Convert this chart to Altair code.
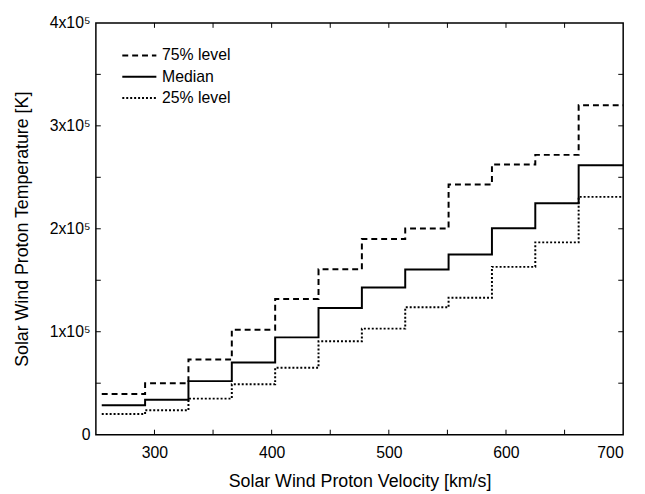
import altair as alt
import pandas as pd

# bin edges of solar wind velocity (km/s)
edges = [255, 292, 329, 366, 403, 440, 477, 514, 551, 588, 625, 662, 700]
p75 = [39400, 50000, 73000, 102000, 131700, 160600, 190000, 200300, 243000, 262500, 271800, 320000]
median = [28500, 34000, 52000, 70000, 94500, 123000, 143000, 160500, 175000, 200600, 224700, 261800]
p25 = [20000, 23700, 35000, 49000, 65000, 90700, 103000, 123700, 133000, 163000, 186800, 231000]
series_names = ["75% level", "Median", "25% level"]

x_ticks = [300, 350, 400, 450, 500, 550, 600, 650]
y_ticks = [50000, 100000, 150000, 200000, 250000, 300000, 350000]
x_labels = [300, 400, 500, 600, 700]
y_labels = [0, 100000, 200000, 300000, 400000]

XMIN, XMAX = 250, 700
YMIN, YMAX = 0, 400000
TX = 4.2      # inward tick length in x units
TY = 4800     # inward tick length in y units

rows = []
for name, vals in zip(series_names, [p75, median, p25]):
    for i, v in enumerate(vals):
        rows.append({"v": edges[i], "T": v, "series": name, "order": i})
    rows.append({"v": edges[-1], "T": vals[-1], "series": name, "order": len(vals)})
df = pd.DataFrame(rows)

xs = alt.Scale(domain=[XMIN, XMAX], nice=False, zero=False)
ys = alt.Scale(domain=[YMIN, YMAX], nice=False)

lines = alt.Chart(df).mark_line(interpolate="step-after", color="black", strokeCap="butt",
                                strokeWidth=2).encode(
    x=alt.X("v:Q", scale=xs,
            axis=alt.Axis(title="Solar Wind Proton Velocity [km/s]", values=x_labels, format="d",
                          ticks=False, domain=False, grid=False, labelPadding=10, titlePadding=12)),
    y=alt.Y("T:Q", scale=ys,
            axis=alt.Axis(title="Solar Wind Proton Temperature [K]", values=y_labels, grid=False,
                          ticks=False, domain=False, labelPadding=6, titlePadding=18,
                          labelExpr="datum.value == 0 ? '0' : (datum.value/100000) + 'x10\u2075'")),
    strokeDash=alt.StrokeDash("series:N",
                              scale=alt.Scale(domain=series_names, range=[[6, 4], [1, 0], [2, 2]]),
                              legend=alt.Legend(title=None, orient="none", legendX=31.5, legendY=20.5,
                                                symbolType="M-1.5,0H1.5", symbolSize=529,
                                                symbolStrokeWidth=2, symbolStrokeColor="black",
                                                labelFontSize=16, labelOffset=10.5, rowPadding=0.5,
                                                padding=0)),
    detail="series:N",
    order="order:Q",
)

xt = pd.DataFrame({"x": x_ticks})
yt = pd.DataFrame({"y": y_ticks})

def xrule(y0, y1):
    return alt.Chart(xt).mark_rule(color="black", strokeWidth=1).encode(
        x=alt.X("x:Q", scale=xs), y=alt.datum(y0, scale=ys), y2=alt.datum(y1))

def yrule(x0, x1):
    return alt.Chart(yt).mark_rule(color="black", strokeWidth=1).encode(
        y=alt.Y("y:Q", scale=ys), x=alt.datum(x0, scale=xs), x2=alt.datum(x1))

ticks = [xrule(YMIN, YMIN + TY), xrule(YMAX, YMAX - TY),
         yrule(XMIN, XMIN + TX), yrule(XMAX, XMAX - TX)]

chart = alt.layer(lines, *ticks).properties(
    width=534, height=417,
    autosize=alt.AutoSizeParams(type="none"),
    padding={"left": 89, "top": 12, "right": 14, "bottom": 57},
).configure(font="Liberation Sans").configure_view(
    stroke="black", strokeWidth=1.5
).configure_axis(
    labelFontSize=16, titleFontSize=18, labelColor="black", titleColor="black",
    labelFont="Liberation Sans", titleFont="Liberation Sans", titleFontWeight="normal"
).configure_legend(labelColor="black", labelFont="Liberation Sans")

chart.save("out.html", embed_options={"renderer": "svg", "actions": False})
